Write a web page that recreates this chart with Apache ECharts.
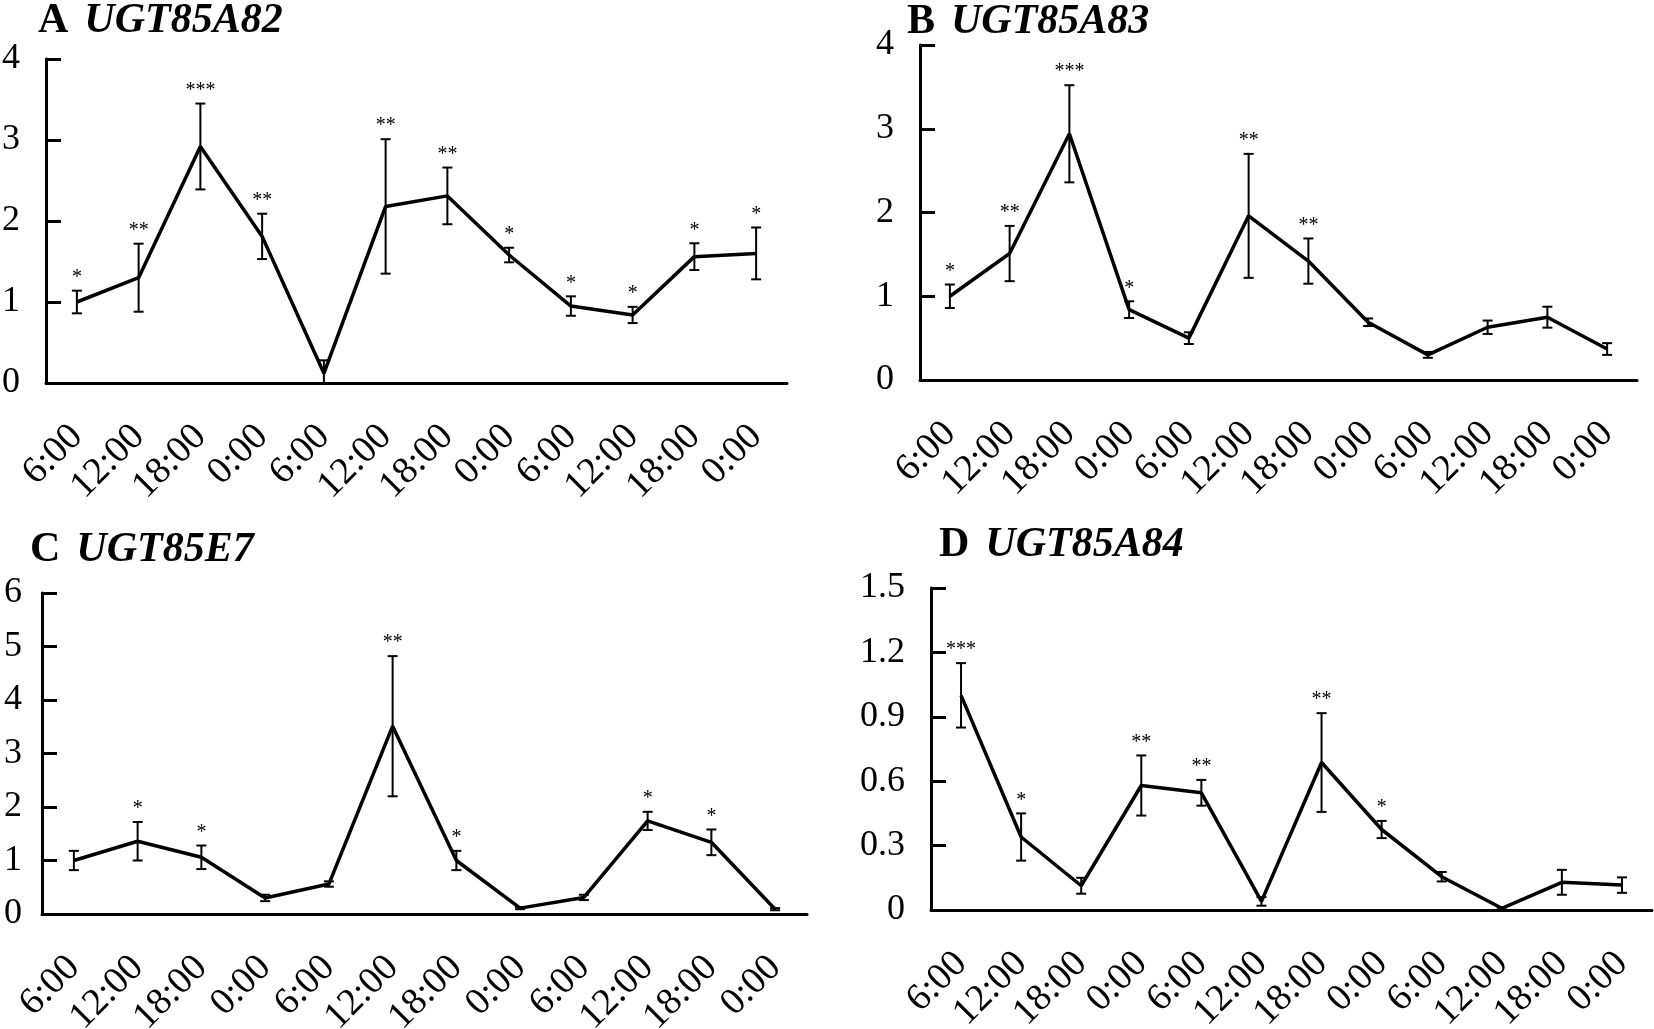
<!DOCTYPE html>
<html>
<head>
<meta charset="utf-8">
<script src="https://cdn.jsdelivr.net/npm/echarts@6/dist/echarts.min.js"></script>
<style>
  html, body { margin: 0; padding: 0; background: #fff; }
  #main { width: 1654px; height: 1029px; }
</style>
</head>
<body>
<div id="main"></div>
<script>
// time points (x axis)
var timeLabels = ['6:00', '12:00', '18:00', '0:00', '6:00', '12:00', '18:00', '0:00', '6:00', '12:00', '18:00', '0:00'];

// A UGT85A82
var meanA = [1.00, 1.30, 2.92, 1.81, 0.12, 2.18, 2.31, 1.58, 0.95, 0.84, 1.56, 1.60];
var errA = [0.14, 0.42, 0.53, 0.28, 0.16, 0.83, 0.35, 0.09, 0.12, 0.10, 0.165, 0.32];
var starsA = ['*', '**', '***', '**', '', '**', '**', '*', '*', '*', '*', '*'];

// B UGT85A83
var meanB = [1.00, 1.51, 2.94, 0.84, 0.50, 1.96, 1.42, 0.69, 0.30, 0.63, 0.75, 0.37];
var errB = [0.14, 0.33, 0.58, 0.10, 0.07, 0.74, 0.27, 0.045, 0.035, 0.08, 0.125, 0.07];
var starsB = ['*', '**', '***', '*', '', '**', '**', '', '', '', '', ''];

// C UGT85E7
var meanC = [1.00, 1.36, 1.06, 0.30, 0.56, 3.51, 1.00, 0.11, 0.31, 1.74, 1.34, 0.09];
var errC = [0.18, 0.36, 0.22, 0.06, 0.05, 1.31, 0.18, 0.02, 0.05, 0.17, 0.24, 0.02];
var starsC = ['', '*', '*', '', '', '**', '*', '', '', '*', '*', ''];

// D UGT85A84
var meanD = [1.00, 0.34, 0.113, 0.58, 0.546, 0.04, 0.687, 0.375, 0.155, 0.008, 0.129, 0.116];
var errD = [0.15, 0.11, 0.037, 0.14, 0.06, 0.02, 0.23, 0.04, 0.022, 0.005, 0.058, 0.036];
var starsD = ['***', '*', '', '**', '**', '', '**', '*', '', '', '', ''];

var FONT = '"Liberation Serif", "Times New Roman", serif';
var chart = echarts.init(document.getElementById('main'));

// panel layout: grid box + y axis scale
var panels = [
  { letter: 'A', gene: 'UGT85A82', mean: meanA, err: errA, stars: starsA, max: 4, interval: 1, yMargin: 26,
    grid: { left: 46, top: 59, width: 741, height: 324 }, title: { left: 38, top: 0 } },
  { letter: 'B', gene: 'UGT85A83', mean: meanB, err: errB, stars: starsB, max: 4, interval: 1, yMargin: 26,
    grid: { left: 920, top: 45, width: 717, height: 335 }, title: { left: 907, top: 1 } },
  { letter: 'C', gene: 'UGT85E7', mean: meanC, err: errC, stars: starsC, max: 6, interval: 1, yMargin: 20,
    grid: { left: 42, top: 593, width: 765, height: 321 }, title: { left: 30, top: 529 } },
  { letter: 'D', gene: 'UGT85A84', mean: meanD, err: errD, stars: starsD, max: 1.5, interval: 0.3, yMargin: 26,
    grid: { left: 931, top: 588, width: 721, height: 322 }, title: { left: 939, top: 524 } }
];

function errorBars(stars) {
  return function (params, api) {
    var i = api.value(0), m = api.value(1), e = api.value(2);
    var top = api.coord([i, m + e]);
    var bot = api.coord([i, Math.max(m - e, 0)]);
    var cap = 5;
    var st = { stroke: '#000', lineWidth: 2 };
    var children = [
      { type: 'line', shape: { x1: top[0], y1: top[1], x2: bot[0], y2: bot[1] }, style: st },
      { type: 'line', shape: { x1: top[0] - cap, y1: top[1], x2: top[0] + cap, y2: top[1] }, style: st },
      { type: 'line', shape: { x1: bot[0] - cap, y1: bot[1], x2: bot[0] + cap, y2: bot[1] }, style: st }
    ];
    if (stars[i]) {
      children.push({
        type: 'text', x: top[0], y: top[1] - 3,
        style: { text: stars[i], fill: '#000', fontSize: 20, fontFamily: FONT, align: 'center', verticalAlign: 'bottom' }
      });
    }
    return { type: 'group', children: children };
  };
}

var titles = [], grids = [], xAxes = [], yAxes = [], series = [];
panels.forEach(function (p, k) {
  titles.push({
    text: '{a|' + p.letter + '}  {b|' + p.gene + '}',
    left: p.title.left, top: p.title.top, padding: 0,
    textStyle: {
      rich: {
        a: { fontFamily: FONT, fontWeight: 'bold', fontSize: 42, color: '#000', padding: [0, 6, 0, 0] },
        b: { fontFamily: FONT, fontWeight: 'bold', fontStyle: 'italic', fontSize: 42, color: '#000' }
      }
    }
  });
  grids.push(Object.assign({ outerBoundsMode: 'none', containLabel: false }, p.grid));
  xAxes.push({
    type: 'category', gridIndex: k, data: timeLabels, boundaryGap: true,
    axisLine: { lineStyle: { color: '#000', width: 3 } },
    axisTick: { inside: true, length: 15, lineStyle: { color: '#000', width: 3 } },
    axisLabel: { interval: 0, rotate: 45, margin: 48, color: '#000', fontSize: 38, fontFamily: FONT },
    splitLine: { show: false }
  });
  yAxes.push({
    type: 'value', gridIndex: k, min: 0, max: p.max, interval: p.interval,
    axisLine: { show: true, lineStyle: { color: '#000', width: 3 } },
    axisTick: { show: true, inside: true, length: 15, lineStyle: { color: '#000', width: 3 } },
    axisLabel: {
      margin: p.yMargin, color: '#000', fontSize: 36, fontFamily: FONT,
      formatter: function (v) { return String(Math.round(v * 10) / 10); }
    },
    splitLine: { show: false }
  });
  series.push({
    type: 'line', xAxisIndex: k, yAxisIndex: k, data: p.mean,
    symbol: 'none', lineStyle: { color: '#000', width: 3.5 }, z: 2
  });
  series.push({
    type: 'custom', xAxisIndex: k, yAxisIndex: k, clip: false, z: 3,
    data: p.mean.map(function (m, i) { return [i, m, p.err[i]]; }),
    renderItem: errorBars(p.stars)
  });
});

chart.setOption({
  animation: false,
  backgroundColor: '#fff',
  title: titles,
  grid: grids,
  xAxis: xAxes,
  yAxis: yAxes,
  series: series
});
</script>
</body>
</html>
